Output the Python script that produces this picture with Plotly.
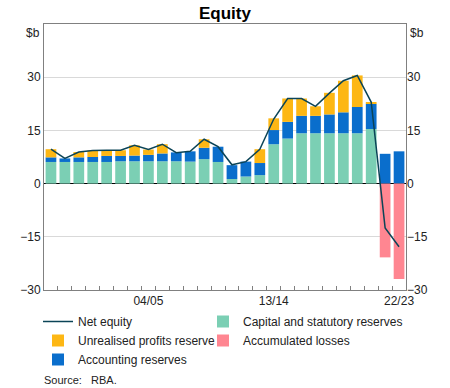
import plotly.graph_objects as go

categories = ["97/98", "98/99", "99/00", "00/01", "01/02", "02/03", "03/04", "04/05",
              "05/06", "06/07", "07/08", "08/09", "09/10", "10/11", "11/12", "12/13",
              "13/14", "14/15", "15/16", "16/17", "17/18", "18/19", "19/20", "20/21",
              "21/22", "22/23"]
shown_labels = ["04/05", "13/14", "22/23"]

capital = [6.1, 6.1, 6.1, 6.1, 6.1, 6.3, 6.3, 6.3, 6.3, 6.3, 6.2, 6.9, 6.1, 1.3, 2.0, 2.4,
           11.1, 12.7, 14.2, 14.2, 14.2, 14.2, 14.2, 15.4, 0, 0]
accounting = [1.3, 1.0, 1.3, 1.4, 1.7, 1.5, 1.6, 1.8, 2.2, 2.5, 2.9, 3.2, 4.3, 3.9, 4.2, 3.4,
              4.0, 4.7, 4.9, 4.9, 5.3, 5.9, 7.4, 7.1, 8.4, 9.1]
unrealised = [2.3, 0, 1.5, 1.8, 1.6, 1.6, 2.9, 1.5, 2.6, 0, 0, 2.4, 0, 0, 0, 3.9,
              3.3, 6.6, 4.9, 2.7, 6.1, 8.9, 8.9, 0.5, 0, 0]
losses = [0] * 24 + [-20.8, -26.9]
net_equity = [9.7, 7.1, 8.9, 9.3, 9.4, 9.4, 10.8, 9.6, 11.1, 8.7, 9.1, 12.5, 10.4, 5.3, 6.2, 9.7,
              18.2, 24.0, 24.0, 21.8, 25.5, 29.0, 30.5, 23.0, -12.5, -17.8]

y_ticks = [-30, -15, 0, 15, 30]

GREEN = "#7BCFB4"
BLUE = "#0A6ECC"
YELLOW = "#FDB714"
PINK = "#FF8691"
LINE = "#0B4457"
FONT = "Arial, Liberation Sans, sans-serif"
TXT = "#222"

fig = go.Figure()
fig.add_trace(go.Bar(x=categories, y=capital, name="Capital and statutory reserves",
                     marker=dict(color=GREEN, line=dict(width=0)), legend="legend2",
                     legendrank=1))
fig.add_trace(go.Bar(x=categories, y=accounting, name="Accounting reserves",
                     marker=dict(color=BLUE, line=dict(width=0)), legendrank=3))
fig.add_trace(go.Bar(x=categories, y=unrealised, name="Unrealised profits reserve",
                     marker=dict(color=YELLOW, line=dict(width=0)), legendrank=2))
fig.add_trace(go.Bar(x=categories, y=losses, name="Accumulated losses",
                     marker=dict(color=PINK, line=dict(width=0)), legend="legend2",
                     legendrank=2))
fig.add_trace(go.Scatter(x=categories, y=net_equity, name="Net equity", mode="lines",
                         line=dict(color=LINE, width=1.5), legendrank=1, yaxis="y2"))

ticktext = [c if c in shown_labels else "" for c in categories]

PH = 266.0  # plot height in px
PW = 362.0  # plot width in px
leg_y = -17 / PH

fig.update_layout(
    width=450, height=388,
    margin=dict(l=44, r=44, t=24, b=98, pad=0, autoexpand=False),
    paper_bgcolor="white", plot_bgcolor="white",
    barmode="relative", bargap=0.23,
    font=dict(family=FONT, size=12, color=TXT),
    title=dict(text="<b>Equity</b>", x=0.5, xanchor="center", xref="paper",
               y=1 - 13 / 388, yref="container", yanchor="middle",
               font=dict(size=17, color="#000")),
    xaxis=dict(type="category", tickmode="array", tickvals=categories, ticktext=ticktext,
               tickson="boundaries", ticks="inside", ticklen=4, tickcolor="#808080",
               showline=True, linecolor="#808080", linewidth=1, mirror=True,
               showgrid=False, tickangle=0, tickfont=dict(size=12, color=TXT)),
    yaxis=dict(range=[-30, 45], tickmode="array", tickvals=y_ticks,
               showgrid=True, gridcolor="#D9D9D9", gridwidth=1,
               zeroline=True, zerolinecolor="#000", zerolinewidth=1,
               showline=True, linecolor="#808080", linewidth=1, mirror=True,
               ticks="", tickfont=dict(size=12, color=TXT)),
    yaxis2=dict(range=[-30, 45], overlaying="y", side="right", tickmode="array",
                tickvals=y_ticks, showgrid=False, zeroline=False, showline=False,
                ticks="", tickfont=dict(size=12, color=TXT)),
    legend=dict(orientation="v", x=-6 / PW, xanchor="left", y=leg_y, yanchor="top",
                traceorder="normal", font=dict(size=12, color=TXT),
                bgcolor="rgba(0,0,0,0)", borderwidth=0),
    legend2=dict(orientation="v", x=159 / PW, xanchor="left", y=leg_y, yanchor="top",
                 traceorder="normal", font=dict(size=12, color=TXT),
                 bgcolor="rgba(0,0,0,0)", borderwidth=0),
    showlegend=True,
    annotations=[
        dict(text="$b", x=0, xref="paper", xanchor="right", xshift=-2,
             y=1, yref="paper", yanchor="top", showarrow=False,
             font=dict(size=12, color=TXT)),
        dict(text="$b", x=1, xref="paper", xanchor="left", xshift=2,
             y=1, yref="paper", yanchor="top", showarrow=False,
             font=dict(size=12, color=TXT)),
        dict(text="Source:\u00a0\u00a0\u00a0RBA.", x=-2 / PW, xref="paper", xanchor="left",
             y=-90 / PH, yref="paper", yanchor="middle", showarrow=False,
             font=dict(size=11, color=TXT)),
    ],
)

fig.write_html("out.html", config={"displayModeBar": False},
               post_script="document.body.style.margin='0px';")
